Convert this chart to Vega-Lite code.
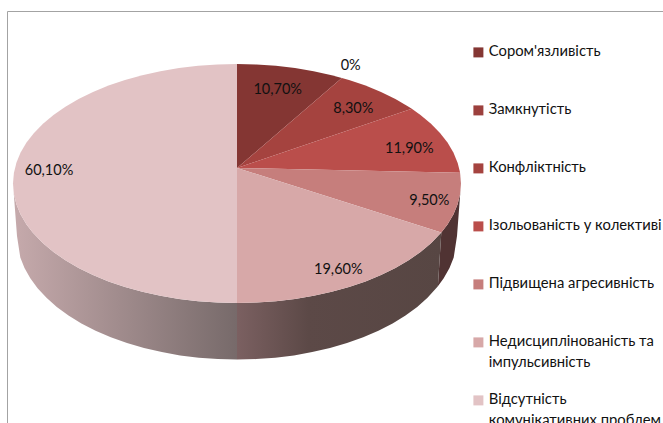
{"$schema":"https://vega.github.io/schema/vega-lite/v6.json","width":663,"height":423,"padding":0,"autosize":{"type":"none"},"background":"white","config":{"view":{"stroke":null},"style":{"guide-label":{"lineHeight":21}}},
"datasets":{
"frame":[{"i":1,"x":-229.5,"y":255},{"i":2,"x":-229.5,"y":-156.5},{"i":3,"x":426,"y":-156.5}],
"labels":[{"t":"10,70%","x":40.7,"y":-79.3},{"t":"0%","x":113.7,"y":-102.7},{"t":"8,30%","x":116.3,"y":-60.3},{"t":"11,90%","x":172.3,"y":-20.3},{"t":"9,50%","x":192.3,"y":32},{"t":"19,60%","x":101.3,"y":100.7},{"t":"60,10%","x":-188,"y":2}],
"wallA":[{"i":1,"x":224,"y":15.5},{"i":2,"x":223.1,"y":25.9},{"i":3,"x":220.6,"y":36.2},{"i":4,"x":216.4,"y":46.4},{"i":5,"x":210.5,"y":56.4},{"i":6,"x":204.3,"y":64.5},{"i":7,"x":200.9,"y":118.3},{"i":8,"x":206.7,"y":110.3},{"i":9,"x":212.5,"y":100},{"i":10,"x":216.7,"y":89.5},{"i":11,"x":220,"y":68}],
"wallB":[{"i":1,"x":204.3,"y":64.5},{"i":2,"x":194,"y":75.3},{"i":3,"x":183.5,"y":84},{"i":4,"x":171.6,"y":92.3},{"i":5,"x":158.4,"y":100},{"i":6,"x":144,"y":107},{"i":7,"x":128.5,"y":113.4},{"i":8,"x":112,"y":119},{"i":9,"x":94.7,"y":123.8},{"i":10,"x":76.6,"y":127.8},{"i":11,"x":58,"y":130.9},{"i":12,"x":38.9,"y":133.2},{"i":13,"x":19.5,"y":134.5},{"i":14,"x":0,"y":135},{"i":15,"x":0,"y":191.6},{"i":16,"x":19.2,"y":191.1},{"i":17,"x":38.2,"y":189.7},{"i":18,"x":56.9,"y":187.4},{"i":19,"x":75.2,"y":184.1},{"i":20,"x":93,"y":180},{"i":21,"x":110,"y":175},{"i":22,"x":126.2,"y":169.2},{"i":23,"x":141.4,"y":162.7},{"i":24,"x":155.6,"y":155.4},{"i":25,"x":168.5,"y":147.5},{"i":26,"x":180.2,"y":138.9},{"i":27,"x":190.5,"y":129.8},{"i":28,"x":200.9,"y":118.3}],
"wallC":[{"i":1,"x":0,"y":135},{"i":2,"x":-19.5,"y":134.5},{"i":3,"x":-38.9,"y":133.2},{"i":4,"x":-58,"y":130.9},{"i":5,"x":-76.6,"y":127.8},{"i":6,"x":-94.7,"y":123.8},{"i":7,"x":-112,"y":119},{"i":8,"x":-128.5,"y":113.4},{"i":9,"x":-144,"y":107},{"i":10,"x":-158.4,"y":100},{"i":11,"x":-171.6,"y":92.3},{"i":12,"x":-183.5,"y":84},{"i":13,"x":-194,"y":75.3},{"i":14,"x":-204.3,"y":64.5},{"i":15,"x":-210.5,"y":56.4},{"i":16,"x":-216.4,"y":46.4},{"i":17,"x":-220.6,"y":36.2},{"i":18,"x":-223.1,"y":25.9},{"i":19,"x":-224,"y":15.5},{"i":20,"x":-220,"y":68},{"i":21,"x":-216.7,"y":89.5},{"i":22,"x":-212.5,"y":100},{"i":23,"x":-206.7,"y":110.3},{"i":24,"x":-199.4,"y":120.2},{"i":25,"x":-190.5,"y":129.8},{"i":26,"x":-180.2,"y":138.9},{"i":27,"x":-168.5,"y":147.5},{"i":28,"x":-155.6,"y":155.4},{"i":29,"x":-141.4,"y":162.7},{"i":30,"x":-126.2,"y":169.2},{"i":31,"x":-110,"y":175},{"i":32,"x":-93,"y":180},{"i":33,"x":-75.2,"y":184.1},{"i":34,"x":-56.9,"y":187.4},{"i":35,"x":-38.2,"y":189.7},{"i":36,"x":-19.2,"y":191.1},{"i":37,"x":0,"y":191.6}],
"slices":[
{"c":"Сором'язливість","i":0,"x":0,"y":0},{"c":"Сором'язливість","i":1,"x":0,"y":-104},{"c":"Сором'язливість","i":2,"x":19.5,"y":-103.5},{"c":"Сором'язливість","i":3,"x":38.9,"y":-102.2},{"c":"Сором'язливість","i":4,"x":58,"y":-99.9},{"c":"Сором'язливість","i":5,"x":76.6,"y":-96.8},{"c":"Сором'язливість","i":6,"x":94.7,"y":-92.8},{"c":"Сором'язливість","i":7,"x":104.8,"y":-90.1},
{"c":"Конфліктність","i":0,"x":0,"y":0},{"c":"Конфліктність","i":1,"x":104.8,"y":-90.1},{"c":"Конфліктність","i":2,"x":112,"y":-88},{"c":"Конфліктність","i":3,"x":128.5,"y":-82.4},{"c":"Конфліктність","i":4,"x":144,"y":-76},{"c":"Конфліктність","i":5,"x":158.4,"y":-69},{"c":"Конфліктність","i":6,"x":171.6,"y":-61.3},{"c":"Конфліктність","i":7,"x":174.8,"y":-59.2},
{"c":"Ізольованість у колективі","i":0,"x":0,"y":0},{"c":"Ізольованість у колективі","i":1,"x":174.8,"y":-59.2},{"c":"Ізольованість у колективі","i":2,"x":183.5,"y":-53},{"c":"Ізольованість у колективі","i":3,"x":194,"y":-44.3},{"c":"Ізольованість у колективі","i":4,"x":203,"y":-35},{"c":"Ізольованість у колективі","i":5,"x":210.5,"y":-25.4},{"c":"Ізольованість у колективі","i":6,"x":216.4,"y":-15.4},{"c":"Ізольованість у колективі","i":7,"x":220.6,"y":-5.2},{"c":"Ізольованість у колективі","i":8,"x":223.1,"y":4.7},
{"c":"Підвищена агресивність","i":0,"x":0,"y":0},{"c":"Підвищена агресивність","i":1,"x":223.1,"y":4.7},{"c":"Підвищена агресивність","i":2,"x":224,"y":15.5},{"c":"Підвищена агресивність","i":3,"x":223.1,"y":25.9},{"c":"Підвищена агресивність","i":4,"x":220.6,"y":36.2},{"c":"Підвищена агресивність","i":5,"x":216.4,"y":46.4},{"c":"Підвищена агресивність","i":6,"x":210.5,"y":56.4},{"c":"Підвищена агресивність","i":7,"x":204.3,"y":64.5},
{"c":"Недисциплінованість та імпульсивність","i":0,"x":0,"y":0},{"c":"Недисциплінованість та імпульсивність","i":1,"x":204.3,"y":64.5},{"c":"Недисциплінованість та імпульсивність","i":2,"x":194,"y":75.3},{"c":"Недисциплінованість та імпульсивність","i":3,"x":183.5,"y":84},{"c":"Недисциплінованість та імпульсивність","i":4,"x":171.6,"y":92.3},{"c":"Недисциплінованість та імпульсивність","i":5,"x":158.4,"y":100},{"c":"Недисциплінованість та імпульсивність","i":6,"x":144,"y":107},{"c":"Недисциплінованість та імпульсивність","i":7,"x":128.5,"y":113.4},{"c":"Недисциплінованість та імпульсивність","i":8,"x":112,"y":119},{"c":"Недисциплінованість та імпульсивність","i":9,"x":94.7,"y":123.8},{"c":"Недисциплінованість та імпульсивність","i":10,"x":76.6,"y":127.8},{"c":"Недисциплінованість та імпульсивність","i":11,"x":58,"y":130.9},{"c":"Недисциплінованість та імпульсивність","i":12,"x":38.9,"y":133.2},{"c":"Недисциплінованість та імпульсивність","i":13,"x":19.5,"y":134.5},{"c":"Недисциплінованість та імпульсивність","i":14,"x":0,"y":135},
{"c":"Відсутність комунікативних проблем","i":0,"x":0,"y":0},{"c":"Відсутність комунікативних проблем","i":1,"x":0,"y":135},{"c":"Відсутність комунікативних проблем","i":2,"x":-19.5,"y":134.5},{"c":"Відсутність комунікативних проблем","i":3,"x":-38.9,"y":133.2},{"c":"Відсутність комунікативних проблем","i":4,"x":-58,"y":130.9},{"c":"Відсутність комунікативних проблем","i":5,"x":-76.6,"y":127.8},{"c":"Відсутність комунікативних проблем","i":6,"x":-94.7,"y":123.8},{"c":"Відсутність комунікативних проблем","i":7,"x":-112,"y":119},{"c":"Відсутність комунікативних проблем","i":8,"x":-128.5,"y":113.4},{"c":"Відсутність комунікативних проблем","i":9,"x":-144,"y":107},{"c":"Відсутність комунікативних проблем","i":10,"x":-158.4,"y":100},{"c":"Відсутність комунікативних проблем","i":11,"x":-171.6,"y":92.3},{"c":"Відсутність комунікативних проблем","i":12,"x":-183.5,"y":84},{"c":"Відсутність комунікативних проблем","i":13,"x":-194,"y":75.3},{"c":"Відсутність комунікативних проблем","i":14,"x":-204.3,"y":64.5},{"c":"Відсутність комунікативних проблем","i":15,"x":-210.5,"y":56.4},{"c":"Відсутність комунікативних проблем","i":16,"x":-216.4,"y":46.4},{"c":"Відсутність комунікативних проблем","i":17,"x":-220.6,"y":36.2},{"c":"Відсутність комунікативних проблем","i":18,"x":-223.1,"y":25.9},{"c":"Відсутність комунікативних проблем","i":19,"x":-224,"y":15.5},{"c":"Відсутність комунікативних проблем","i":20,"x":-223.1,"y":5.1},{"c":"Відсутність комунікативних проблем","i":21,"x":-220.6,"y":-5.2},{"c":"Відсутність комунікативних проблем","i":22,"x":-216.4,"y":-15.4},{"c":"Відсутність комунікативних проблем","i":23,"x":-210.5,"y":-25.4},{"c":"Відсутність комунікативних проблем","i":24,"x":-203,"y":-35},{"c":"Відсутність комунікативних проблем","i":25,"x":-194,"y":-44.3},{"c":"Відсутність комунікативних проблем","i":26,"x":-183.5,"y":-53},{"c":"Відсутність комунікативних проблем","i":27,"x":-171.6,"y":-61.3},{"c":"Відсутність комунікативних проблем","i":28,"x":-158.4,"y":-69},{"c":"Відсутність комунікативних проблем","i":29,"x":-144,"y":-76},{"c":"Відсутність комунікативних проблем","i":30,"x":-128.5,"y":-82.4},{"c":"Відсутність комунікативних проблем","i":31,"x":-112,"y":-88},{"c":"Відсутність комунікативних проблем","i":32,"x":-94.7,"y":-92.8},{"c":"Відсутність комунікативних проблем","i":33,"x":-76.6,"y":-96.8},{"c":"Відсутність комунікативних проблем","i":34,"x":-58,"y":-99.9},{"c":"Відсутність комунікативних проблем","i":35,"x":-38.9,"y":-102.2},{"c":"Відсутність комунікативних проблем","i":36,"x":-19.5,"y":-103.5},{"c":"Відсутність комунікативних проблем","i":37,"x":0,"y":-104}
]},
"encoding":{
"x":{"field":"x","type":"quantitative","axis":null,"scale":{"domain":[-237,426],"nice":false,"zero":false}},
"y":{"field":"y","type":"quantitative","axis":null,"scale":{"domain":[-168,255],"reverse":true,"nice":false,"zero":false}}
},
"layer":[
{"data":{"name":"frame"},"mark":{"type":"line","stroke":"#a3a3a3","strokeWidth":1,"clip":false},"encoding":{"order":{"field":"i"}}},
{"data":{"name":"wallA"},"mark":{"type":"line","fill":"#503333","strokeWidth":0},"encoding":{"order":{"field":"i"}}},
{"data":{"name":"wallB"},"mark":{"type":"line","strokeWidth":0,"fill":{"gradient":"linear","x1":0,"x2":1,"y1":0,"y2":0,"stops":[{"offset":0,"color":"#7b6061"},{"offset":0.35,"color":"#5c4947"},{"offset":1,"color":"#574643"}]}},"encoding":{"order":{"field":"i"}}},
{"data":{"name":"wallC"},"mark":{"type":"line","strokeWidth":0,"fill":{"gradient":"linear","x1":0,"x2":1,"y1":0,"y2":0,"stops":[{"offset":0,"color":"#c6aaac"},{"offset":1,"color":"#776a6a"}]}},"encoding":{"order":{"field":"i"}}},
{"data":{"name":"slices"},"mark":{"type":"line","strokeWidth":0},"encoding":{"order":{"field":"i"},
"fill":{"field":"c","type":"nominal","scale":{"domain":["Сором'язливість","Замкнутість","Конфліктність","Ізольованість у колективі","Підвищена агресивність","Недисциплінованість та імпульсивність","Відсутність комунікативних проблем"],"range":["#843633","#9c403d","#a5433f","#ba4e4b","#c67e7c","#d7a8a8","#e2c3c5"]},
"legend":{"orient":"none","legendX":471,"legendY":45,"title":null,"symbolType":"square","symbolSize":100,"symbolStrokeWidth":0,"labelFont":"Lato","labelFontSize":14.8,"labelColor":"#111","labelLimit":220,"labelBaseline":"middle","labelOffset":3,"rowPadding":0,"gridAlign":"all","labelExpr":"split(replace(replace(datum.label,'та ','та|'),'ість ком','ість|ком')+(indexof(replace(replace(datum.label,'та ','та|'),'ість ком','ість|ком'),'|')<0?'||':'|'),'|')"}}}},
{"data":{"name":"labels"},"mark":{"type":"text","font":"Lato","fontSize":14.5,"color":"#111","dy":1},"encoding":{"text":{"field":"t"}}}
]}
